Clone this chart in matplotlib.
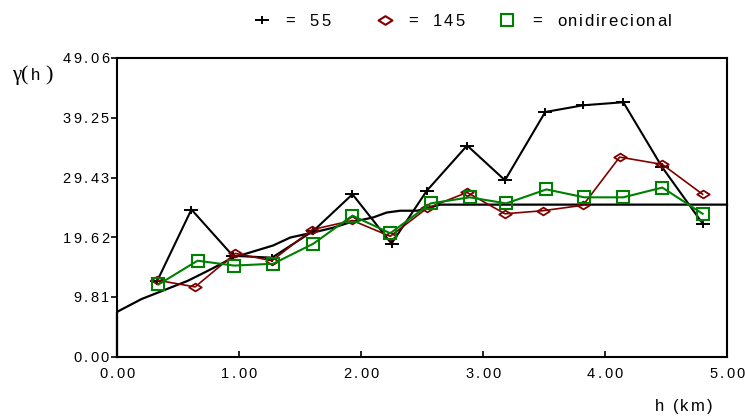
import matplotlib
matplotlib.use("Agg")
import matplotlib.pyplot as plt
from matplotlib.path import Path
from matplotlib.lines import Line2D
from matplotlib.transforms import offset_copy, blended_transform_factory
from matplotlib.font_manager import FontProperties, findfont, get_font

# ---------------- data ----------------
h_55 = [0.33, 0.61, 0.95, 1.27, 1.61, 1.93, 2.25, 2.54, 2.87, 3.18, 3.51, 3.82, 4.15, 4.47, 4.80]
g_55 = [12.5, 24.2, 16.6, 16.3, 20.7, 26.7, 18.6, 27.3, 34.7, 29.0, 40.2, 41.3, 41.8, 31.1, 21.9]

h_145 = [0.33, 0.64, 0.97, 1.27, 1.60, 1.93, 2.24, 2.54, 2.87, 3.18, 3.49, 3.82, 4.12, 4.47, 4.80]
g_145 = [12.6, 11.5, 17.0, 15.8, 20.9, 22.4, 19.8, 24.4, 27.0, 23.5, 24.0, 24.9, 32.8, 31.6, 26.7]

h_omni = [0.34, 0.66, 0.96, 1.28, 1.61, 1.93, 2.24, 2.57, 2.89, 3.19, 3.52, 3.83, 4.15, 4.47, 4.80]
g_omni = [11.9, 15.8, 15.0, 15.3, 18.6, 23.2, 20.3, 25.2, 26.2, 25.2, 27.5, 26.2, 26.2, 27.8, 23.5]

h_model = [0.0, 0.0, 0.20, 0.58, 0.78, 0.95, 1.28, 1.42, 1.60, 1.77, 1.91, 2.10, 2.21, 2.32, 2.46, 2.65, 5.0]
g_model = [0.0, 7.4, 9.5, 12.5, 14.5, 16.3, 18.3, 19.6, 20.4, 21.2, 22.1, 22.9, 23.7, 24.0, 24.0, 25.0, 25.0]

y_ticks = [0.00, 9.81, 19.62, 29.43, 39.25, 49.06]
y_tick_labels = ["0.00", "9.81", "19.62", "29.43", "39.25", "49.06"]
x_ticks = [0, 1, 2, 3, 4, 5]
x_tick_labels = ["0.00", "1.00", "2.00", "3.00", "4.00", "5.00"]

legend_labels = ["=  55", "=  145", "=  onidirecional"]
x_label = "h (km)"

# ---------------- style ----------------
BLACK = "#000000"
RED = "#800000"
GREEN = "#008000"
SANS = "Liberation Sans"
SERIF = "Liberation Serif"

W, H, DPI = 745, 416, 100
fig = plt.figure(figsize=(W / DPI, H / DPI), dpi=DPI)
L, R, T, B = 117, 727, 58, 357
ax = fig.add_axes([L / W, 1 - B / H, (R - L) / W, (B - T) / H])

plus_marker = Path([(-1, 0), (1, 0), (0, -0.62), (0, 0.62)],
                   [Path.MOVETO, Path.LINETO, Path.MOVETO, Path.LINETO])
diamond_marker = Path([(-1, 0), (0, 0.62), (1, 0), (0, -0.62), (-1, 0)],
                      [Path.MOVETO, Path.LINETO, Path.LINETO, Path.LINETO, Path.CLOSEPOLY])

ax.plot(h_55, g_55, color=BLACK, lw=1.5, marker=plus_marker, ms=10, mew=1.4,
        mfc="none", mec=BLACK, zorder=3)
ax.plot(h_145, g_145, color=RED, lw=1.2, marker=diamond_marker, ms=9, mew=1.3,
        mfc="none", mec=RED, zorder=4)
ax.plot(h_omni, g_omni, color=GREEN, lw=1.5, marker="s", ms=8.5, mew=1.5,
        mfc="none", mec=GREEN, zorder=5)
ax.plot(h_model, g_model, color=BLACK, lw=1.6, zorder=2, clip_on=False)

ax.set_xlim(0, 5)
ax.set_ylim(0, 49.06)
for s in ax.spines.values():
    s.set_linewidth(1.5)
ax.set_yticks(y_ticks)
ax.set_xticks(x_ticks)
ax.tick_params(axis="y", direction="out", length=4, width=1.2, labelleft=False)
ax.tick_params(axis="x", direction="in", length=4, width=1.2, labelbottom=False)


# ------------- letter-spaced text helper -------------
def char_advances(s, family, size):
    fp = FontProperties(family=family, size=size)
    font = get_font(findfont(fp))
    font.set_size(size, DPI)
    adv = []
    for c in s:
        g = font.load_char(ord(c))
        adv.append(g.linearHoriAdvance / 65536.0)
    return adv


def spaced_text(trans, x, y, s, size, track, family=SANS, ha="left",
                dx=0.0, dy=0.0, color="black"):
    adv = char_advances(s, family, size)
    total = sum(adv) + track * (len(s) - 1)
    if ha == "center":
        start = -total / 2
    elif ha == "right":
        start = -total
    else:
        start = 0.0
    pos = start
    for c, a in zip(s, adv):
        if c != " ":
            tr = offset_copy(trans, fig=fig, x=dx + pos, y=dy, units="dots")
            fig.text(x, y, c, transform=tr, fontsize=size, family=family,
                     ha="left", va="baseline", color=color)
        pos += a + track


def px(x, y):
    return x / W, 1 - y / H


# tick labels
tick_size = 10.5
tick_track = 2.5
cap = 0.716 * tick_size * DPI / 72
ytrans = blended_transform_factory(ax.transAxes, ax.transData)
for v, lab in zip(y_ticks, y_tick_labels):
    spaced_text(ytrans, 0, v, lab, tick_size, tick_track, ha="right", dx=-8, dy=-cap / 2)
xtrans = blended_transform_factory(ax.transData, ax.transAxes)
for v, lab in zip(x_ticks, x_tick_labels):
    spaced_text(xtrans, v, 0, lab, tick_size, tick_track, ha="center", dy=-21)

# axis labels
spaced_text(fig.transFigure, *px(712, 411), x_label, 12, 2.0, ha="right")
fig.text(*px(12, 80), "γ", fontsize=15, family=SERIF, ha="left", va="baseline")
fig.text(*px(21.5, 80), "(", fontsize=16, family=SERIF, ha="left", va="baseline")
fig.text(*px(31, 80), "h", fontsize=12, family=SANS, ha="left", va="baseline")
fig.text(*px(45, 80), ")", fontsize=16, family=SERIF, ha="left", va="baseline")

# legend (manual)
leg_y = 20
leg_markers = [
    dict(x=262, marker=plus_marker, ms=10, mec=BLACK, mew=1.4),
    dict(x=385, marker=diamond_marker, ms=10, mec=RED, mew=1.5),
    dict(x=507, marker="s", ms=9, mec=GREEN, mew=1.5),
]
leg_text_x = [285.5, 408.5, 532.5]
for m, lab, tx in zip(leg_markers, legend_labels, leg_text_x):
    x0, y0 = px(m["x"], leg_y)
    fig.add_artist(Line2D([x0], [y0], transform=fig.transFigure, marker=m["marker"],
                          ms=m["ms"], mfc="none", mec=m["mec"], mew=m["mew"], lw=0))
    spaced_text(fig.transFigure, *px(tx, leg_y + 6), lab, 12, 1.8, ha="left")

fig.savefig("out.png", dpi=DPI)
